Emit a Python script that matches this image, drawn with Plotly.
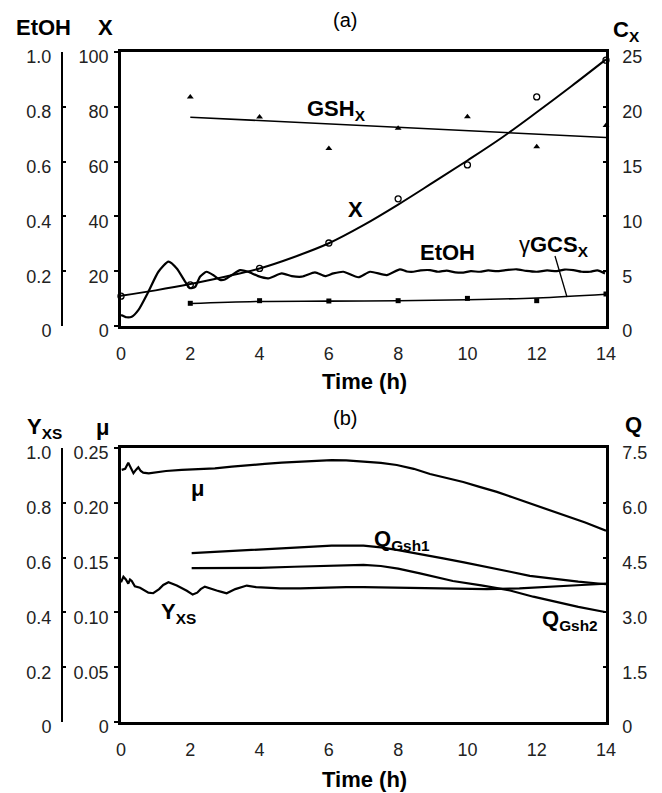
import plotly.graph_objects as go

W, H = 662, 793

# ---------------- Panel (a) data ----------------
t_obs = [0, 2, 4, 6, 8, 10, 12, 14]
X_obs = [10.9, 15.0, 21.0, 30.3, 46.4, 58.8, 83.6, 97.0]

t_fit = [0, 1, 2, 3, 4, 5, 6, 7, 8, 9, 10, 11, 12, 13, 14]
X_fit = [11.0, 13.0, 15.3, 18.0, 21.0, 25.2, 30.2, 36.8, 44.3, 52.3, 60.4, 68.8, 78.0, 87.5, 97.3]

t_cx = [2, 4, 6, 8, 10, 12, 14]
GSH_obs = [20.9, 19.06, 16.2, 18.05, 19.1, 16.35, 18.3]
GSH_fit_t = [2, 14]
GSH_fit = [19.05, 17.2]

GCS_obs = [2.07, 2.31, 2.28, 2.31, 2.52, 2.31, 2.92]
GCS_fit = [2.05, 2.24, 2.27, 2.31, 2.39, 2.56, 2.9]

t_etoh = [0.0, 0.16, 0.31, 0.5, 0.79, 1.08, 1.37, 1.61, 1.85, 1.99, 2.14, 2.28, 2.47,
          2.66, 2.86, 3.0, 3.2, 3.44, 3.67, 3.96, 4.25, 4.64, 4.93, 5.22, 5.6, 5.89,
          6.13, 6.42, 6.85, 7.19, 7.67, 8.05, 8.25, 8.44, 8.65, 8.92, 9.15, 9.4, 9.65,
          9.88, 10.1, 10.36, 10.6, 10.85, 11.1, 11.42, 11.7, 12.0, 12.3, 12.58, 12.8,
          13.06, 13.3, 13.54, 13.75, 13.97]
EtOH = [0.04, 0.032, 0.034, 0.058, 0.125, 0.198, 0.235, 0.21, 0.162, 0.138, 0.143, 0.18, 0.198,
        0.186, 0.168, 0.17, 0.186, 0.204, 0.198, 0.182, 0.174, 0.192, 0.182, 0.18, 0.196, 0.182,
        0.192, 0.198, 0.178, 0.198, 0.186, 0.207, 0.199, 0.198, 0.203, 0.204, 0.198, 0.202, 0.196,
        0.195, 0.2, 0.198, 0.203, 0.2, 0.204, 0.207, 0.201, 0.198, 0.203, 0.2, 0.206,
        0.204, 0.198, 0.198, 0.203, 0.192]

# ---------------- Panel (b) data ----------------
t_mu = [0.02, 0.12, 0.21, 0.28, 0.36, 0.43, 0.5, 0.57, 0.64, 0.8, 0.98, 1.3, 1.75, 2.2, 2.71,
        3.2, 3.67, 4.15, 4.64, 5.1, 5.6, 6.08, 6.5, 7.0, 7.5, 7.96, 8.45, 8.92, 9.4, 9.88,
        10.35, 10.85, 11.3, 11.8, 12.3, 12.77, 13.4, 14.0]
mu = [0.230, 0.231, 0.2366, 0.232, 0.227, 0.230, 0.2324, 0.229, 0.2275, 0.2268, 0.2275, 0.229,
      0.230, 0.2305, 0.2315, 0.233, 0.2345, 0.2355, 0.2366, 0.2375, 0.2385, 0.239, 0.2388,
      0.2378, 0.2365, 0.2345, 0.231, 0.2263, 0.2225, 0.219, 0.2145, 0.210, 0.205, 0.1995,
      0.194, 0.189, 0.182, 0.1746]

t_yxs = [0.0, 0.07, 0.14, 0.21, 0.26, 0.31, 0.40, 0.55, 0.79, 0.93, 1.1, 1.22, 1.37, 1.5, 1.61,
         1.9, 2.07, 2.2, 2.3, 2.42, 2.6, 2.76, 2.9, 3.05, 3.3, 3.63, 3.9, 4.2, 4.6, 5.17, 5.6,
         5.99, 6.5, 7.0, 7.5, 8.0, 8.63, 9.5, 10.56, 11.5, 12.47, 13.3, 14.0]
Yxs = [0.51, 0.530, 0.52, 0.505, 0.52, 0.515, 0.495, 0.49, 0.472, 0.470, 0.485, 0.500, 0.510,
       0.505, 0.498, 0.479, 0.465, 0.472, 0.485, 0.494, 0.488, 0.480, 0.475, 0.470, 0.485,
       0.498, 0.492, 0.490, 0.488, 0.488, 0.49, 0.49, 0.492, 0.492, 0.491, 0.49, 0.489, 0.487,
       0.485, 0.488, 0.493, 0.5, 0.505]

t_q1 = [2.04, 3.0, 3.67, 4.5, 5.3, 6.08, 7.0, 7.5, 7.96, 8.63, 9.3, 9.9, 10.56, 11.2, 11.8,
        12.47, 13.2, 14.0]
Q_gsh1 = [4.62, 4.67, 4.71, 4.76, 4.80, 4.83, 4.83, 4.78, 4.71, 4.6, 4.48, 4.37, 4.25, 4.12,
          4.0, 3.92, 3.84, 3.77]

t_q2 = [2.04, 3.0, 4.0, 5.0, 6.0, 7.0, 7.5, 8.0, 8.63, 9.58, 10.4, 10.8, 11.23, 11.9, 12.47,
        13.2, 13.97]
Q_gsh2 = [4.21, 4.21, 4.22, 4.25, 4.28, 4.3, 4.27, 4.2, 4.07, 3.86, 3.74, 3.68, 3.6, 3.43,
          3.3, 3.15, 3.01]

# ---------------- ticks ----------------
x_ticks = [0, 2, 4, 6, 8, 10, 12, 14]
X_ticks = [0, 20, 40, 60, 80, 100]
EtOH_ticks = [0, 0.2, 0.4, 0.6, 0.8, 1.0]
EtOH_labels = ["0", "0.2", "0.4", "0.6", "0.8", "1.0"]
Cx_ticks = [0, 5, 10, 15, 20, 25]
mu_ticks = [0, 0.05, 0.10, 0.15, 0.20, 0.25]
mu_labels = ["0", "0.05", "0.10", "0.15", "0.20", "0.25"]
Yxs_ticks = [0, 0.2, 0.4, 0.6, 0.8, 1.0]
Yxs_labels = ["0", "0.2", "0.4", "0.6", "0.8", "1.0"]
Q_ticks = [0, 1.5, 3.0, 4.5, 6.0, 7.5]
Q_labels = ["0", "1.5", "3.0", "4.5", "6.0", "7.5"]

FONT = "Liberation Sans, Arial, sans-serif"
TICKC = "#222222"


def px(x):
    return x / W


def py(y):
    return 1 - y / H


fig = go.Figure()

# Panel (a)
fig.add_trace(go.Scatter(x=t_fit, y=X_fit, mode="lines", line=dict(color="black", width=2, shape="spline"),
                         xaxis="x", yaxis="y", cliponaxis=False))
fig.add_trace(go.Scatter(x=t_obs, y=X_obs, mode="markers",
                         marker=dict(symbol="circle-open", size=6, color="black", line=dict(width=1.3)),
                         xaxis="x", yaxis="y", cliponaxis=False))
fig.add_trace(go.Scatter(x=t_etoh, y=EtOH, mode="lines", line=dict(color="black", width=2.2, shape="spline", smoothing=0.6),
                         xaxis="x", yaxis="y2"))
fig.add_trace(go.Scatter(x=GSH_fit_t, y=GSH_fit, mode="lines", line=dict(color="black", width=1.6),
                         xaxis="x", yaxis="y3"))
fig.add_trace(go.Scatter(x=t_cx, y=GSH_obs, mode="markers",
                         marker=dict(symbol="triangle-up", size=6, color="black"),
                         xaxis="x", yaxis="y3", cliponaxis=False))
fig.add_trace(go.Scatter(x=t_cx, y=GCS_fit, mode="lines", line=dict(color="black", width=1.6, shape="spline"),
                         xaxis="x", yaxis="y3", cliponaxis=False))
fig.add_trace(go.Scatter(x=t_cx, y=GCS_obs, mode="markers",
                         marker=dict(symbol="square", size=5, color="black"),
                         xaxis="x", yaxis="y3", cliponaxis=False))

# Panel (b)
fig.add_trace(go.Scatter(x=t_mu, y=mu, mode="lines", line=dict(color="black", width=2.2),
                         xaxis="x2", yaxis="y4"))
fig.add_trace(go.Scatter(x=t_yxs, y=Yxs, mode="lines", line=dict(color="black", width=2.2),
                         xaxis="x2", yaxis="y5"))
fig.add_trace(go.Scatter(x=t_q1, y=Q_gsh1, mode="lines", line=dict(color="black", width=2.2),
                         xaxis="x2", yaxis="y6"))
fig.add_trace(go.Scatter(x=t_q2, y=Q_gsh2, mode="lines", line=dict(color="black", width=2.2),
                         xaxis="x2", yaxis="y6"))

xdom = [px(121), px(606)]
adom = [py(326), py(52)]
bdom = [py(722), py(448)]

tickfont = dict(family=FONT, size=18, color=TICKC)

common_x = dict(range=[0, 14], tickvals=x_ticks, ticks="", showline=True, linewidth=2.5,
                linecolor="black", mirror=True, showgrid=False, zeroline=False, automargin=False,
                tickfont=tickfont, ticklabelstandoff=10, domain=xdom)

SHIFT = 5
left_main = dict(showline=True, linewidth=2.5, linecolor="black", ticks="outside", ticklen=4,
                 tickwidth=1.5, tickcolor="black", showgrid=False, zeroline=False, tickfont=tickfont,
                 ticklabelstandoff=2, ticklabelshift=SHIFT, automargin=False)
left_free = dict(showline=True, linewidth=2, linecolor="black", ticks="inside", ticklen=3,
                 tickwidth=1.5, tickcolor="black", showgrid=False, zeroline=False, tickfont=tickfont,
                 anchor="free", position=px(62), side="left", ticklabelstandoff=6,
                 ticklabelshift=SHIFT, automargin=False)
right_ax = dict(showline=True, linewidth=2.5, linecolor="black", ticks="inside", ticklen=3,
                tickwidth=1.5, tickcolor="black", showgrid=False, zeroline=False, tickfont=tickfont,
                side="right", ticklabelstandoff=10, ticklabelshift=SHIFT, automargin=False)

fig.update_layout(
    width=W, height=H, autosize=False,
    margin=dict(l=0, r=0, t=0, b=0, pad=0),
    paper_bgcolor="white", plot_bgcolor="white",
    showlegend=False,
    font=dict(family=FONT, color="black"),
    xaxis=dict(anchor="y", **common_x),
    xaxis2=dict(anchor="y4", **common_x),
    yaxis=dict(domain=adom, range=[0, 100], tickvals=X_ticks, anchor="x", **left_main),
    yaxis2=dict(overlaying="y", range=[0, 1], tickvals=EtOH_ticks, ticktext=EtOH_labels, **left_free),
    yaxis3=dict(overlaying="y", anchor="x", range=[0, 25], tickvals=Cx_ticks, **right_ax),
    yaxis4=dict(domain=bdom, range=[0, 0.25], tickvals=mu_ticks, ticktext=mu_labels, anchor="x2", **left_main),
    yaxis5=dict(overlaying="y4", range=[0, 1], tickvals=Yxs_ticks, ticktext=Yxs_labels, **left_free),
    yaxis6=dict(overlaying="y4", anchor="x2", range=[0, 7.5], tickvals=Q_ticks, ticktext=Q_labels, **right_ax),
)

TF = 22
anns = [
    ("(a)", 345, 20, 20),
    ("<b>EtOH</b>", 43, 28, TF),
    ("<b>X</b>", 105, 28, TF),
    ("<b>C<sub>X</sub></b>", 626, 31, TF),
    ("<b>Time (h)</b>", 364, 381, TF),
    ("<b>GSH<sub>X</sub></b>", 336, 110, TF),
    ("<b>X</b>", 355, 209, TF),
    ("<b>EtOH</b>", 447, 252, TF),
    ("γ<b>GCS<sub>X</sub></b>", 554, 246, TF),
    ("(b)", 345, 418, 20),
    ("<b>Y<sub>XS</sub></b>", 44, 428, TF),
    ("<b>μ</b>", 102, 427, TF),
    ("<b>Q</b>", 633, 424, TF),
    ("<b>Time (h)</b>", 364, 779, TF),
    ("<b>μ</b>", 197, 488, TF),
    ("<b>Q<sub>Gsh1</sub></b>", 402, 540, TF),
    ("<b>Y<sub>XS</sub></b>", 178, 613, TF),
    ("<b>Q<sub>Gsh2</sub></b>", 570, 620, TF),
]
for text, x, y, fs in anns:
    fig.add_annotation(text=text, x=px(x), y=py(y), xref="paper", yref="paper",
                       showarrow=False, xanchor="center", yanchor="middle",
                       font=dict(family=FONT, size=fs, color="black"))

# leader line for gamma-GCS label
fig.add_shape(type="line", xref="paper", yref="paper",
              x0=px(555), y0=py(256), x1=px(567), y1=py(297),
              line=dict(color="black", width=1.3))

fig.write_html("out.html")
